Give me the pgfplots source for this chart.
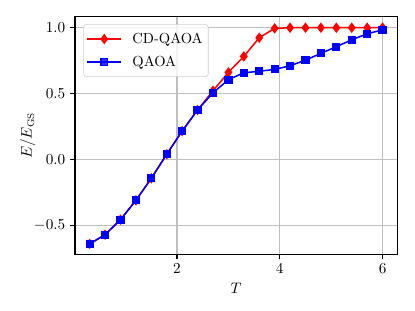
\documentclass[border=0pt]{standalone}
\usepackage{pgfplots}
\usepackage{pgfplotstable}
\pgfplotsset{compat=1.18}
\pgfplotstableread{
T E
0.3 -0.643
0.6 -0.573
0.9 -0.459
1.2 -0.312
1.5 -0.145
1.8 0.038
2.1 0.214
2.4 0.374
2.7 0.520
3.0 0.660
3.3 0.781
3.6 0.923
3.9 0.994
4.2 0.999
4.5 0.999
4.8 0.999
5.1 0.999
5.4 0.999
5.7 0.999
6.0 1.000
}\cdqaoa
\pgfplotstableread{
T E
0.3 -0.643
0.6 -0.573
0.9 -0.459
1.2 -0.312
1.5 -0.145
1.8 0.038
2.1 0.214
2.4 0.374
2.7 0.505
3.0 0.604
3.3 0.657
3.6 0.668
3.9 0.683
4.2 0.710
4.5 0.753
4.8 0.804
5.1 0.855
5.4 0.907
5.7 0.953
6.0 0.983
}\qaoa
\newcommand\ff{\fontsize{10.5}{12.6}\selectfont}
\begin{document}
\begin{tikzpicture}
\begin{axis}[
  scale only axis,
  width=232pt, height=171pt,
  xmin=0.015, xmax=6.285, ymin=-0.722, ymax=1.082,
  xtick={2,4,6}, ytick={-0.5,0,0.5,1.0},
  yticklabel style={/pgf/number format/.cd, fixed, fixed zerofill, precision=1},
  tick label style={font=\ff},
  label style={font=\ff},
  ylabel shift=-8pt,
  tick align=outside, xtick pos=left, ytick pos=left,
  major tick length=3.5pt,
  tick style={black, line width=0.8pt},
  axis line style={black, line width=0.8pt},
  grid=major,
  grid style={color=black!25, line width=0.8pt},
  xlabel={$T$}, ylabel={$E/E_{\rm GS}$},
  legend cell align=left,
  legend image code/.code={\draw[mark repeat=2,mark phase=2] plot coordinates {(0pt,0pt)(12.3pt,0pt)(24.6pt,0pt)};},
  legend style={at={(0.026,0.969)}, anchor=north west, font=\ff, draw=black!20, rounded corners=2pt, fill=white, fill opacity=0.8, text opacity=1, row sep=3.5pt, inner xsep=2pt, inner ysep=4pt, nodes={inner sep=2pt},
    /tikz/every odd column/.append style={column sep=5.4pt}},
]
\addplot[red, line width=1.1pt, mark=diamond*, mark size=2.9pt, mark options={solid}] table[x=T,y=E]{\cdqaoa};
\addlegendentry{CD-QAOA}
\addplot[blue, line width=1.1pt, mark=square*, mark size=2.4pt] table[x=T,y=E]{\qaoa};
\addlegendentry{QAOA}
\end{axis}
\pgfresetboundingbox
\path[use as bounding box] ([shift={(-54pt,-40.8pt)}]current axis.south west) rectangle ++(298.8pt,223.9pt);
\end{tikzpicture}
\end{document}
